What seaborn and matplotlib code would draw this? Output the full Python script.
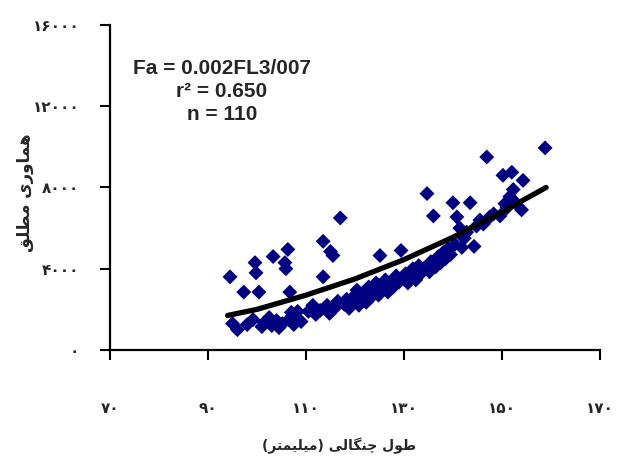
import matplotlib.pyplot as plt
import pandas as pd
import seaborn as sns

# fork length (mm) and absolute fecundity
fl = [94.5, 95.0, 96.0, 97.3, 98.0, 99.2, 99.6, 99.8, 100.4, 101.0,
      101.5, 102.5, 103.0, 103.3, 104.0, 104.5, 105.2, 105.7, 105.9, 106.3,
      106.7, 106.5, 107.0, 107.5, 108.0, 108.3, 109.0, 110.5, 111.4, 112.0,
      112.9, 113.5, 113.5, 114.3, 114.8, 115.0, 115.5, 115.8, 116.5, 117.0,
      117.8, 118.3, 118.8, 119.3, 119.8, 120.4, 120.8, 121.3, 121.8, 122.3,
      122.8, 123.3, 123.8, 124.3, 124.8, 125.1, 125.6, 126.2, 126.7, 127.3,
      127.8, 128.4, 129.0, 129.4, 129.8, 130.3, 130.8, 131.3, 131.8, 132.4,
      133.0, 133.4, 134.0, 134.7, 135.2, 135.5, 136.0, 136.5, 137.0, 137.5,
      138.0, 138.5, 139.0, 139.5, 140.0, 140.4, 140.8, 141.4, 141.8, 142.3,
      142.8, 143.5, 144.3, 144.8, 145.5, 146.2, 146.9, 147.5, 148.3, 149.6,
      150.2, 150.6, 151.0, 151.6, 152.0, 152.3, 152.8, 154.0, 154.3, 158.8]
fa = [3600, 1300, 1000, 2850, 1250, 1500, 4300, 3800, 2850, 1150,
      1350, 1600, 1200, 4600, 1450, 1100, 1300, 4300, 4000, 4950,
      2850, 1500, 1850, 1250, 1600, 1900, 1400, 1900, 2200, 1750,
      1950, 3600, 5350, 2200, 1800, 4850, 4650, 2050, 2400, 6500,
      2250, 2500, 2050, 2300, 2650, 2950, 2200, 2500, 2800, 2350,
      3100, 2600, 2900, 3300, 2700, 4650, 3000, 3450, 2850, 3300,
      3100, 3650, 3350, 4900, 3500, 3750, 3300, 3600, 4000, 3450,
      4150, 3750, 4000, 7700, 3850, 4350, 6600, 4100, 4600, 4300,
      4800, 4500, 5000, 4700, 7250, 5200, 6550, 6000, 5050, 5500,
      5800, 7250, 5100, 6100, 6400, 6200, 9500, 6550, 6700, 6600,
      8600, 7200, 7000, 7550, 8750, 7900, 7250, 6900, 8350, 9950]

# trend line points
fit_fl = [94, 100, 110, 120, 130, 140, 150, 159]
fit_fa = [1700, 2000, 2700, 3500, 4450, 5550, 6800, 8000]

x_ticks = [70, 90, 110, 130, 150, 170]
x_tick_labels = ['۷۰', '۹۰', '۱۱۰', '۱۳۰', '۱۵۰', '۱۷۰']
y_ticks = [0, 4000, 8000, 12000, 16000]
y_tick_labels = ['۰', '۴۰۰۰', '۸۰۰۰', '۱۲۰۰۰', '۱۶۰۰۰']

# Persian titles, written in visual (left-to-right) order with joined letter forms,
# since matplotlib does no bidi or shaping:
# "طول چنگالی (میلیمتر)" and "هماوری مطلق"
x_title = '(\uFEAE\uFE98\uFEE4\uFBFF\uFEE0\uFBFF\uFEE3) \uFBFD\uFEDF\uFE8E\uFB95\uFEE8\uFB7C \uFEDD\uFEEE\uFEC3'
y_title = '\uFED6\uFEE0\uFEC4\uFEE3 \uFBFC\uFEAD\uFEED\uFE8E\uFEE4\uFEEB'
note_lines = ['Fa = 0.002FL3/007', 'r² = 0.650', 'n = 110']

df = pd.DataFrame({'fl': fl, 'fa': fa})
fit = pd.DataFrame({'fl': fit_fl, 'fa': fit_fa})

sns.set_style('ticks')
plt.rcParams['font.family'] = ['DejaVu Sans']

fig = plt.figure(figsize=(6.26, 4.61), dpi=100)
ax = fig.add_axes([0.1757, 0.2408, 0.7827, 0.705])

sns.scatterplot(data=df, x='fl', y='fa', marker='D', s=58, color='#000080',
                edgecolor='none', ax=ax, zorder=2)
sns.lineplot(data=fit, x='fl', y='fa', color='black', linewidth=3.8, ax=ax, zorder=3)

ax.set_xlim(70, 170)
ax.set_ylim(0, 16000)
ax.set_xticks(x_ticks)
ax.set_xticklabels(x_tick_labels, fontsize=11, fontweight='bold')
ax.set_yticks(y_ticks)
ax.set_yticklabels(y_tick_labels, fontsize=11, fontweight='bold')
ax.tick_params(axis='both', direction='out', length=7, width=1.5, color='black')
ax.tick_params(axis='x', pad=30)
ax.tick_params(axis='y', pad=15)
sns.despine(ax=ax)
for side in ['left', 'bottom']:
    ax.spines[side].set_linewidth(1.6)
    ax.spines[side].set_color('black')

ax.set_xlabel(x_title, fontsize=10, fontweight='bold', va='center')
ax.xaxis.set_label_coords(0.467, -0.295)
ax.set_ylabel(y_title, fontsize=12, fontweight='bold', va='center')
ax.yaxis.set_label_coords(-0.173, 0.483)

for i, line in enumerate(note_lines):
    ax.text(0.228, 0.866 - i * 0.071, line, transform=ax.transAxes,
            ha='center', va='center', fontsize=15, fontweight='bold',
            family=['Liberation Sans Narrow', 'Liberation Sans', 'DejaVu Sans'])

fig.savefig('out.png', dpi=100)
